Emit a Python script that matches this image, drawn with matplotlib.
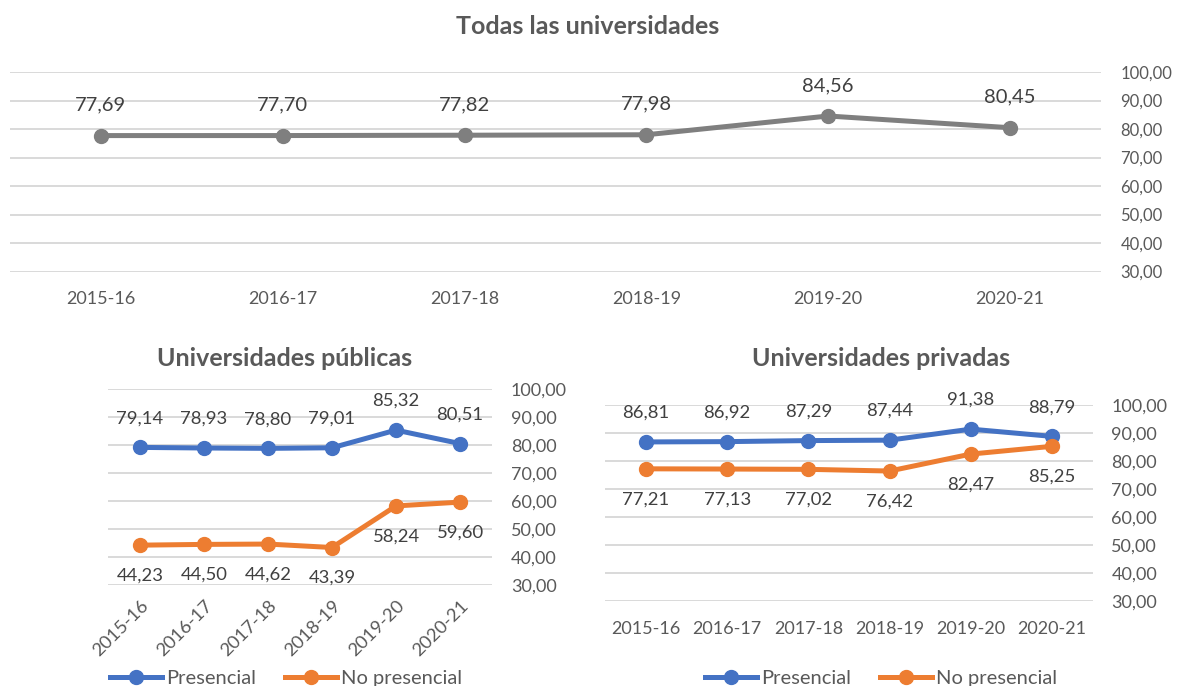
import matplotlib
matplotlib.use("Agg")
import matplotlib.pyplot as plt
from matplotlib.lines import Line2D

plt.rcParams['font.family'] = ['Lato', 'DejaVu Sans']

# ---- data ----
years = ["2015-16", "2016-17", "2017-18", "2018-19", "2019-20", "2020-21"]
todas = [77.69, 77.70, 77.82, 77.98, 84.56, 80.45]
pub_presencial = [79.14, 78.93, 78.80, 79.01, 85.32, 80.51]
pub_no_presencial = [44.23, 44.50, 44.62, 43.39, 58.24, 59.60]
priv_presencial = [86.81, 86.92, 87.29, 87.44, 91.38, 88.79]
priv_no_presencial = [77.21, 77.13, 77.02, 76.42, 82.47, 85.25]
yticks = [30, 40, 50, 60, 70, 80, 90, 100]

titles = ["Todas las universidades", "Universidades públicas", "Universidades privadas"]
series_names = ["Presencial", "No presencial"]

GRAY = "#7F7F7F"
BLUE = "#4472C4"
ORANGE = "#ED7D31"
TXT = "#595959"
LBL = "#404040"
GRID = "#D9D9D9"

W, H = 1177, 686
fig = plt.figure(figsize=(W / 100, H / 100), dpi=100)


def px_axes(l, r, t, b):
    return fig.add_axes([l / W, 1 - b / H, (r - l) / W, (b - t) / H])


def fmt(v):
    return f"{v:.2f}".replace(".", ",")


def style(ax, xsize, ysize, xpad, ypad):
    ax.set_ylim(30, 100)
    ax.set_xlim(-0.5, len(years) - 0.5)
    ax.set_yticks(yticks)
    ax.set_yticklabels([fmt(v) for v in yticks])
    ax.yaxis.tick_right()
    ax.set_xticks(range(len(years)))
    ax.set_xticklabels(years)
    for s in ax.spines.values():
        s.set_visible(False)
    ax.grid(axis='y', color=GRID, linewidth=1.4)
    ax.set_axisbelow(True)
    ax.tick_params(axis='y', length=0, pad=ypad, labelsize=ysize, labelcolor=TXT)
    ax.tick_params(axis='x', length=0, pad=xpad, labelsize=xsize, labelcolor=TXT)


def draw(ax, vals, color, above, size, off):
    x = list(range(len(vals)))
    ax.plot(x, vals, color=color, linewidth=3.6, marker='o', markersize=10,
            solid_capstyle='round', zorder=3)
    for xi, v in zip(x, vals):
        ax.annotate(fmt(v), (xi, v), xytext=(0, off if above else -off),
                    textcoords='offset points', ha='center', va='center',
                    fontsize=size, color=LBL)


# ---- top chart ----
ax0 = px_axes(10, 1101, 72, 271.5)
style(ax0, 13, 12, 14, 14)
draw(ax0, todas, GRAY, True, 14.5, 22)
fig.text(588 / W, 1 - 27 / H, titles[0], ha='center', va='center',
         fontsize=18, fontweight='bold', color=TXT)

# ---- public ----
ax1 = px_axes(108, 492, 389, 585)
style(ax1, 13.3, 13, 9, 13.5)
for lab in ax1.get_xticklabels():
    lab.set_rotation(45)
    lab.set_ha('right')
    lab.set_va('top')
    lab.set_rotation_mode('anchor')
draw(ax1, pub_presencial, BLUE, True, 13.3, 21)
draw(ax1, pub_no_presencial, ORANGE, False, 13.3, 22)
fig.text(285 / W, 1 - 358 / H, titles[1], ha='center', va='center',
         fontsize=18, fontweight='bold', color=TXT)

# ---- private ----
ax2 = px_axes(605.4, 1092.6, 405, 601)
style(ax2, 13, 13, 14.5, 13.5)
draw(ax2, priv_presencial, BLUE, True, 13.3, 21)
draw(ax2, priv_no_presencial, ORANGE, False, 13.3, 22)
fig.text(881 / W, 1 - 358 / H, titles[2], ha='center', va='center',
         fontsize=18, fontweight='bold', color=TXT)

# ---- legends ----
handles = [Line2D([], [], color=BLUE, linewidth=3.6, marker='o', markersize=10),
           Line2D([], [], color=ORANGE, linewidth=3.6, marker='o', markersize=10)]
for ax, x0 in ((ax1, 110), (ax2, 705)):
    leg = ax.legend(handles, series_names, ncol=2, frameon=False,
                    loc='center left', bbox_to_anchor=(x0 / W, 1 - 678 / H),
                    bbox_transform=fig.transFigure, borderpad=0, borderaxespad=0,
                    handlelength=2.6, handletextpad=0.2, columnspacing=1.4,
                    fontsize=14.5)
    for t in leg.get_texts():
        t.set_color(TXT)

fig.savefig("out.png", dpi=100, facecolor="white")
